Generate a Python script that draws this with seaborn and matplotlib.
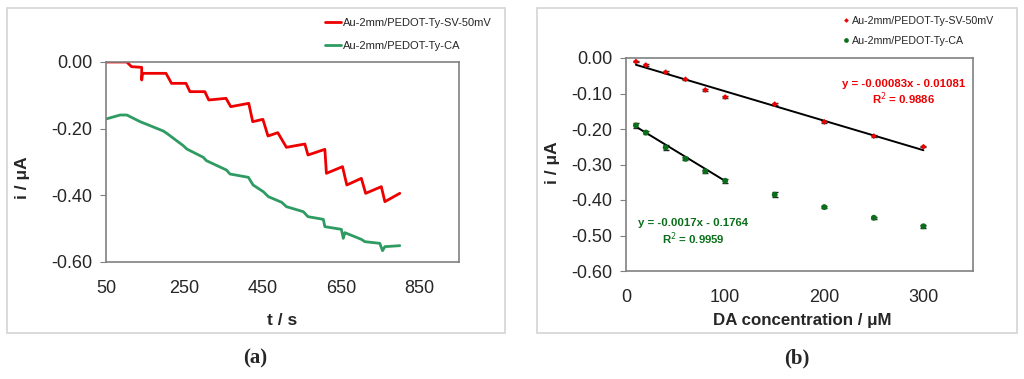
import numpy as np
import pandas as pd
import matplotlib
matplotlib.use("Agg")
import matplotlib.pyplot as plt
import seaborn as sns
from matplotlib.patches import Rectangle

# ---- (a) chronoamperometry traces ----
t_sv = [50, 103, 115, 141, 141, 143, 203, 217, 254, 264, 302, 312, 356, 368, 414, 424,
        450, 463, 488, 510, 557, 565, 608, 612, 653, 664, 701, 712, 752, 761, 799]
i_sv = [0.000, 0.000, -0.014, -0.016, -0.054, -0.034, -0.034, -0.064, -0.064, -0.089,
        -0.089, -0.114, -0.109, -0.134, -0.124, -0.179, -0.172, -0.222, -0.212, -0.256,
        -0.246, -0.279, -0.262, -0.334, -0.314, -0.369, -0.349, -0.394, -0.374, -0.419,
        -0.394]

t_ca = [50, 86, 103, 137, 196, 205, 247, 256, 298, 306, 357, 366, 413, 425, 451, 464,
        498, 510, 553, 565, 604, 608, 650, 655, 659, 701, 710, 748, 755, 761, 799]
i_ca = [-0.171, -0.159, -0.159, -0.179, -0.207, -0.214, -0.251, -0.261, -0.286, -0.296,
        -0.324, -0.336, -0.346, -0.369, -0.389, -0.404, -0.421, -0.434, -0.449, -0.464,
        -0.472, -0.494, -0.502, -0.529, -0.512, -0.532, -0.539, -0.544, -0.566, -0.554,
        -0.551]

# ---- (b) calibration points ----
conc = [10, 20, 40, 60, 80, 100, 150, 200, 250, 300]
peak_sv = [-0.010, -0.020, -0.040, -0.060, -0.090, -0.110, -0.130, -0.180, -0.220, -0.250]
err_sv = [0.002, 0.002, 0.002, 0.002, 0.002, 0.002, 0.002, 0.002, 0.002, 0.002]
peak_ca = [-0.190, -0.210, -0.252, -0.284, -0.319, -0.346, -0.385, -0.420, -0.450, -0.474]
err_ca = [0.006, 0.003, 0.006, 0.004, 0.004, 0.005, 0.007, 0.002, 0.003, 0.004]

# linear fits as printed on the chart
fit_sv = (-0.00083, -0.01081)
fit_ca = (-0.0017, -0.1764)
fit_sv_range = [10, 300]
fit_ca_range = [10, 100]

lab_sv = "Au-2mm/PEDOT-Ty-SV-50mV"
lab_ca = "Au-2mm/PEDOT-Ty-CA"

red = "#ee0000"
green_a = "#2e9b62"
green_b = "#0b6e1a"
frame = "#808080"

sns.set_style("white")
plt.rcParams["font.family"] = ["Liberation Sans", "DejaVu Sans"]

fig = plt.figure(figsize=(10.24, 3.79), dpi=100)

# panel boxes
W, H = 1024, 379
for x0, x1 in [(7, 505), (537, 1017)]:
    fig.patches.append(Rectangle((x0 / W, 1 - 333 / H), (x1 - x0) / W, (333 - 8) / H,
                                 transform=fig.transFigure, fill=False,
                                 edgecolor="#d4d4d4", lw=1.2))

ax1 = fig.add_axes([106 / W, 1 - 262 / H, (459 - 106) / W, (262 - 62) / H])
ax2 = fig.add_axes([626 / W, 1 - 271 / H, (973 - 626) / W, (271 - 58) / H])

# ---- panel (a) ----
df_a = pd.concat([
    pd.DataFrame({"t": t_sv, "i": i_sv, "s": lab_sv}),
    pd.DataFrame({"t": t_ca, "i": i_ca, "s": lab_ca}),
])
sns.lineplot(data=df_a, x="t", y="i", hue="s", palette=[red, green_a], lw=2,
             sort=False, estimator=None, ax=ax1)
ax1.set_xlim(50, 950)
ax1.set_ylim(-0.6, 0.0)
ax1.set_xticks([50, 250, 450, 650, 850])
ax1.set_yticks([0.0, -0.2, -0.4, -0.6])
ax1.set_yticklabels(["0.00", "-0.20", "-0.40", "-0.60"])
ax1.set_xlabel("t / s", fontsize=12.5, fontweight="bold")
ax1.set_ylabel("i / μA", fontsize=12.5, fontweight="bold")
ax1.xaxis.set_label_coords(0.50, -0.255)
ax1.yaxis.set_label_coords(-0.215, 0.42)
ax1.legend(loc="upper left", bbox_to_anchor=(315 / W, 1 - 8 / H),
           bbox_transform=fig.transFigure, frameon=False, fontsize=8,
           handlelength=1.4, handletextpad=0.2, labelspacing=1.2)

# ---- panel (b) ----
df_b = pd.concat([
    pd.DataFrame({"c": conc, "i": peak_sv, "s": lab_sv}),
    pd.DataFrame({"c": conc, "i": peak_ca, "s": lab_ca}),
])
ax2.errorbar(conc, peak_sv, yerr=err_sv, fmt="none", ecolor="#333333", lw=1, capsize=2)
ax2.errorbar(conc, peak_ca, yerr=err_ca, fmt="none", ecolor="#222222", lw=1, capsize=2)
sns.scatterplot(data=df_b, x="c", y="i", hue="s", style="s", size="s",
                markers=["D", "o"], sizes={lab_sv: 9, lab_ca: 18},
                palette=[red, green_b], edgecolor="none", ax=ax2, zorder=3)
for (m, b), rng in [(fit_sv, fit_sv_range), (fit_ca, fit_ca_range)]:
    xs = np.array(rng, dtype=float)
    ax2.plot(xs, m * xs + b, color="black", lw=1.4, zorder=2)

ax2.text(280, -0.072, "y = -0.00083x - 0.01081", color=red, fontsize=8.2,
         fontweight="bold", ha="center", va="center")
ax2.text(280, -0.116, "R$^2$ = 0.9886", color=red, fontsize=8.2,
         fontweight="bold", ha="center", va="center")
ax2.text(68, -0.465, "y = -0.0017x - 0.1764", color=green_b, fontsize=8.2,
         fontweight="bold", ha="center", va="center")
ax2.text(68, -0.51, "R$^2$ = 0.9959", color=green_b, fontsize=8.2,
         fontweight="bold", ha="center", va="center")

ax2.set_xlim(0, 350)
ax2.set_ylim(-0.6, 0.0)
ax2.set_xticks([0, 100, 200, 300])
ax2.set_yticks(np.round(np.arange(0, -0.61, -0.1), 2))
ax2.set_yticklabels(["0.00", "-0.10", "-0.20", "-0.30", "-0.40", "-0.50", "-0.60"])
ax2.set_xlabel("DA concentration / μM", fontsize=12.2, fontweight="bold")
ax2.set_ylabel("i / μA", fontsize=12.5, fontweight="bold")
ax2.xaxis.set_label_coords(0.507, -0.197)
ax2.yaxis.set_label_coords(-0.19, 0.507)
ax2.legend(loc="upper left", bbox_to_anchor=(833 / W, 1 - 6 / H),
           bbox_transform=fig.transFigure, frameon=False, fontsize=7.7,
           handlelength=0.6, handletextpad=0.3, labelspacing=0.95, markerscale=0.8)

for ax in (ax1, ax2):
    for sp in ax.spines.values():
        sp.set_color(frame)
        sp.set_linewidth(1.2)
    ax.tick_params(labelsize=13, length=4, color=frame, direction="out",
                   left=True, bottom=False, pad=6)
ax1.tick_params(axis="x", pad=9)
ax2.tick_params(axis="x", pad=9)

fig.text(255 / W, 1 - 358 / H, "(a)", fontsize=15, fontweight="bold",
         family="Liberation Serif", ha="center", va="center")
fig.text(797 / W, 1 - 358 / H, "(b)", fontsize=15, fontweight="bold",
         family="Liberation Serif", ha="center", va="center")

fig.savefig("out.png", dpi=100)
